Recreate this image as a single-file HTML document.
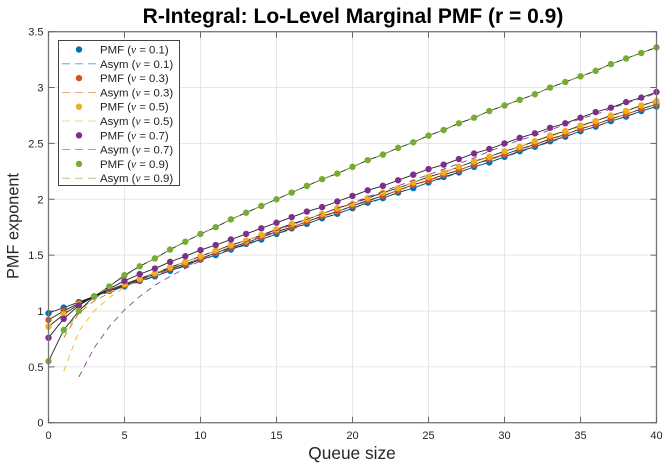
<!DOCTYPE html>
<html>
<head>
<meta charset="utf-8">
<title>R-Integral: Lo-Level Marginal PMF</title>
<style>
html,body{margin:0;padding:0;background:#fff;}
svg{display:block;font-family:"Liberation Sans",Helvetica,Arial,sans-serif;}
.nu{font-family:"Liberation Serif",serif;font-style:italic;}
</style>
</head>
<body>
<svg id="chart" width="664" height="465" viewBox="0 0 664 465" xmlns="http://www.w3.org/2000/svg">
  <g id="grid"></g>
  <g id="plot"></g>
  <g id="axes"></g>
  <text x="353" y="23" text-anchor="middle" font-size="21" font-weight="bold" fill="#000">R-Integral: Lo-Level Marginal PMF (r = 0.9)</text>
  <text x="352" y="459" text-anchor="middle" font-size="17.3" fill="#262626">Queue size</text>
  <text transform="translate(18.5,226) rotate(-90)" text-anchor="middle" font-size="16.3" fill="#262626">PMF exponent</text>
  <g id="legend"></g>
</svg>
<script>
const queueSizes = [0,1,2,3,4,5,6,7,8,9,10,11,12,13,14,15,16,17,18,19,20,21,22,23,24,25,26,27,28,29,30,31,32,33,34,35,36,37,38,39,40];
const xTicks = [0,5,10,15,20,25,30,35,40];
const yTicks = [0,0.5,1,1.5,2,2.5,3,3.5];
const yTickLabels = ['0','0.5','1','1.5','2','2.5','3','3.5'];
const nuValues = ['0.1','0.3','0.5','0.7','0.9'];
const seriesColors = ['#0072BD','#D95319','#EDB120','#7E2F8E','#77AC30'];

const pmf01 = [.98,1.03,1.08,1.13,1.18,1.22,1.27,1.31,1.36,1.41,1.46,1.50,1.55,1.60,1.64,1.69,1.74,1.78,1.83,1.87,1.92,1.97,2.01,2.06,2.10,2.15,2.20,2.24,2.29,2.33,2.38,2.43,2.47,2.52,2.56,2.61,2.65,2.70,2.74,2.79,2.83];
const pmf03 = [.92,1.00,1.07,1.13,1.18,1.23,1.28,1.33,1.38,1.42,1.47,1.52,1.57,1.61,1.66,1.71,1.75,1.80,1.85,1.89,1.94,1.99,2.03,2.08,2.13,2.17,2.22,2.26,2.31,2.36,2.40,2.45,2.49,2.54,2.58,2.63,2.67,2.72,2.76,2.81,2.85];
const pmf05 = [.86,.97,1.06,1.13,1.19,1.24,1.29,1.34,1.39,1.44,1.49,1.54,1.59,1.63,1.68,1.73,1.78,1.82,1.87,1.92,1.96,2.01,2.06,2.10,2.15,2.20,2.24,2.29,2.34,2.38,2.43,2.47,2.52,2.57,2.61,2.66,2.70,2.75,2.79,2.84,2.88];
const pmf07 = [.76,.93,1.05,1.13,1.20,1.27,1.33,1.38,1.44,1.49,1.545,1.59,1.64,1.69,1.74,1.79,1.84,1.89,1.93,1.98,2.03,2.08,2.12,2.17,2.22,2.27,2.31,2.36,2.41,2.45,2.50,2.55,2.59,2.64,2.68,2.73,2.78,2.82,2.87,2.91,2.96];
const pmf09 = [.55,.83,1.00,1.13,1.22,1.32,1.40,1.47,1.55,1.62,1.69,1.75,1.82,1.88,1.94,2.00,2.06,2.12,2.18,2.23,2.29,2.35,2.40,2.46,2.51,2.57,2.62,2.68,2.73,2.79,2.84,2.89,2.94,3.00,3.05,3.10,3.15,3.21,3.26,3.31,3.36];

const asym01 = [null,1.00,1.07,1.12,1.17,1.22,1.26,1.31,1.36,1.40,1.45,1.50,1.55,1.59,1.64,1.69,1.73,1.78,1.83,1.87,1.92,1.96,2.01,2.06,2.10,2.15,2.19,2.24,2.29,2.33,2.38,2.42,2.47,2.51,2.56,2.61,2.65,2.70,2.74,2.79,2.83];
const asym03 = [null,.76,.98,1.09,1.16,1.22,1.27,1.32,1.37,1.42,1.47,1.51,1.56,1.61,1.66,1.70,1.75,1.80,1.84,1.89,1.94,1.98,2.03,2.08,2.12,2.17,2.21,2.26,2.31,2.35,2.40,2.44,2.49,2.53,2.58,2.63,2.67,2.72,2.76,2.81,2.85];
const asym05 = [null,.46,.82,1.00,1.12,1.21,1.28,1.34,1.39,1.44,1.49,1.54,1.58,1.63,1.68,1.72,1.77,1.82,1.87,1.91,1.96,2.01,2.05,2.10,2.15,2.19,2.24,2.29,2.33,2.38,2.42,2.47,2.52,2.56,2.61,2.65,2.70,2.74,2.79,2.83,2.88];
const asym07 = [null,null,.41,.67,.86,1.01,1.13,1.23,1.31,1.38,1.45,1.51,1.56,1.62,1.67,1.72,1.77,1.82,1.87,1.92,1.97,2.02,2.07,2.12,2.17,2.22,2.27,2.32,2.37,2.43,2.48,2.53,2.57,2.62,2.67,2.72,2.76,2.81,2.86,2.90,2.95];
const asym09 = [null,.80,.99,1.12,1.22,1.31,1.40,1.47,1.55,1.62,1.69,1.75,1.82,1.88,1.94,2.00,2.06,2.12,2.18,2.23,2.29,2.35,2.40,2.46,2.51,2.57,2.62,2.68,2.73,2.79,2.84,2.89,2.94,3.00,3.05,3.10,3.15,3.21,3.26,3.31,3.36];

const pmfSeries = [pmf01,pmf03,pmf05,pmf07,pmf09];
const asymSeries = [asym01,asym03,asym05,asym07,asym09];

const NS = 'http://www.w3.org/2000/svg';
const plotLeft = 48.5, plotRight = 656.5, plotTop = 31.7, plotBottom = 422.7;
const xMax = 40, yMax = 3.5;
function xScale(v){ return plotLeft + (v / xMax) * (plotRight - plotLeft); }
function yScale(v){ return plotBottom - (v / yMax) * (plotBottom - plotTop); }
function mk(tag, attrs, parent){
  const el = document.createElementNS(NS, tag);
  for (const k in attrs) el.setAttribute(k, attrs[k]);
  parent.appendChild(el);
  return el;
}
const grid = document.getElementById('grid');
const plot = document.getElementById('plot');
const axes = document.getElementById('axes');
const legend = document.getElementById('legend');

xTicks.forEach(function(t){
  const g = mk('line',{x1:xScale(t),x2:xScale(t),y1:plotTop,y2:plotBottom,stroke:'#e6e6e6','stroke-width':1},grid);
  
  
});
yTicks.forEach(function(t){
  const g = mk('line',{x1:plotLeft,x2:plotRight,y1:yScale(t),y2:yScale(t),stroke:'#e6e6e6','stroke-width':1},grid);
  
  
});

function pathFrom(values){
  let d = '';
  values.forEach(function(v,i){
    if (v === null) return;
    d += (d ? 'L' : 'M') + xScale(queueSizes[i]).toFixed(2) + ' ' + yScale(v).toFixed(2);
  });
  return d;
}

pmfSeries.forEach(function(values,s){
  const color = seriesColors[s];
  const line = mk('path',{d:pathFrom(values),fill:'none',stroke:'#222','stroke-width':0.9},plot);
  
  
  values.forEach(function(v,i){
    const c = mk('circle',{cx:xScale(queueSizes[i]),cy:yScale(v),r:3.2,fill:color},plot);
    
    
  });
  const a = mk('path',{d:pathFrom(asymSeries[s]),fill:'none',stroke:color,'stroke-width':0.8,'stroke-dasharray':'6 5'},plot);
  
  
});

const frame = mk('rect',{x:plotLeft,y:plotTop,width:plotRight-plotLeft,height:plotBottom-plotTop,fill:'none',stroke:'#777','stroke-width':1.3},axes);



xTicks.forEach(function(t){
  const x = xScale(t);
  const a = mk('path',{d:'M'+x+' '+plotBottom+'V'+(plotBottom-6)+'M'+x+' '+plotTop+'V'+(plotTop+6),stroke:'#666','stroke-width':1,fill:'none'},axes);
  
  
  const l = mk('text',{x:x,y:439,'text-anchor':'middle','font-size':11,fill:'#262626'},axes);
  l.textContent = String(t);
  
  
});
yTicks.forEach(function(t,i){
  const y = yScale(t);
  const a = mk('path',{d:'M'+plotLeft+' '+y+'H'+(plotLeft+6)+'M'+plotRight+' '+y+'H'+(plotRight-6),stroke:'#666','stroke-width':1,fill:'none'},axes);
  
  
  const l = mk('text',{x:43.5,y:y+4,'text-anchor':'end','font-size':11,fill:'#262626'},axes);
  l.textContent = yTickLabels[i];
  
  
});

const box = mk('rect',{x:58.5,y:40.5,width:121,height:145,fill:'#fff',stroke:'#444','stroke-width':1},legend);


function legendText(prefix, nu, y){
  const t = mk('text',{x:100,y:y+4,'font-size':11.4,fill:'#222'},legend);
  
  
  t.appendChild(document.createTextNode(prefix + ' ('));
  const n = mk('tspan',{class:'nu'},t);
  n.textContent = '\u03BD';
  t.appendChild(document.createTextNode(' = ' + nu + ')'));
}
nuValues.forEach(function(nu,s){
  const y1 = 49.5 + s * 28.6;
  const y2 = y1 + 14.3;
  const m = mk('circle',{cx:79,cy:y1,r:3.2,fill:seriesColors[s]},legend);
  
  
  legendText('PMF', nu, y1);
  const d = mk('line',{x1:62,x2:97,y1:y2,y2:y2,stroke:seriesColors[s],'stroke-width':0.8,'stroke-opacity':0.7,'stroke-dasharray':'8 5'},legend);
  
  
  legendText('Asym', nu, y2);
});
</script>
</body>
</html>
